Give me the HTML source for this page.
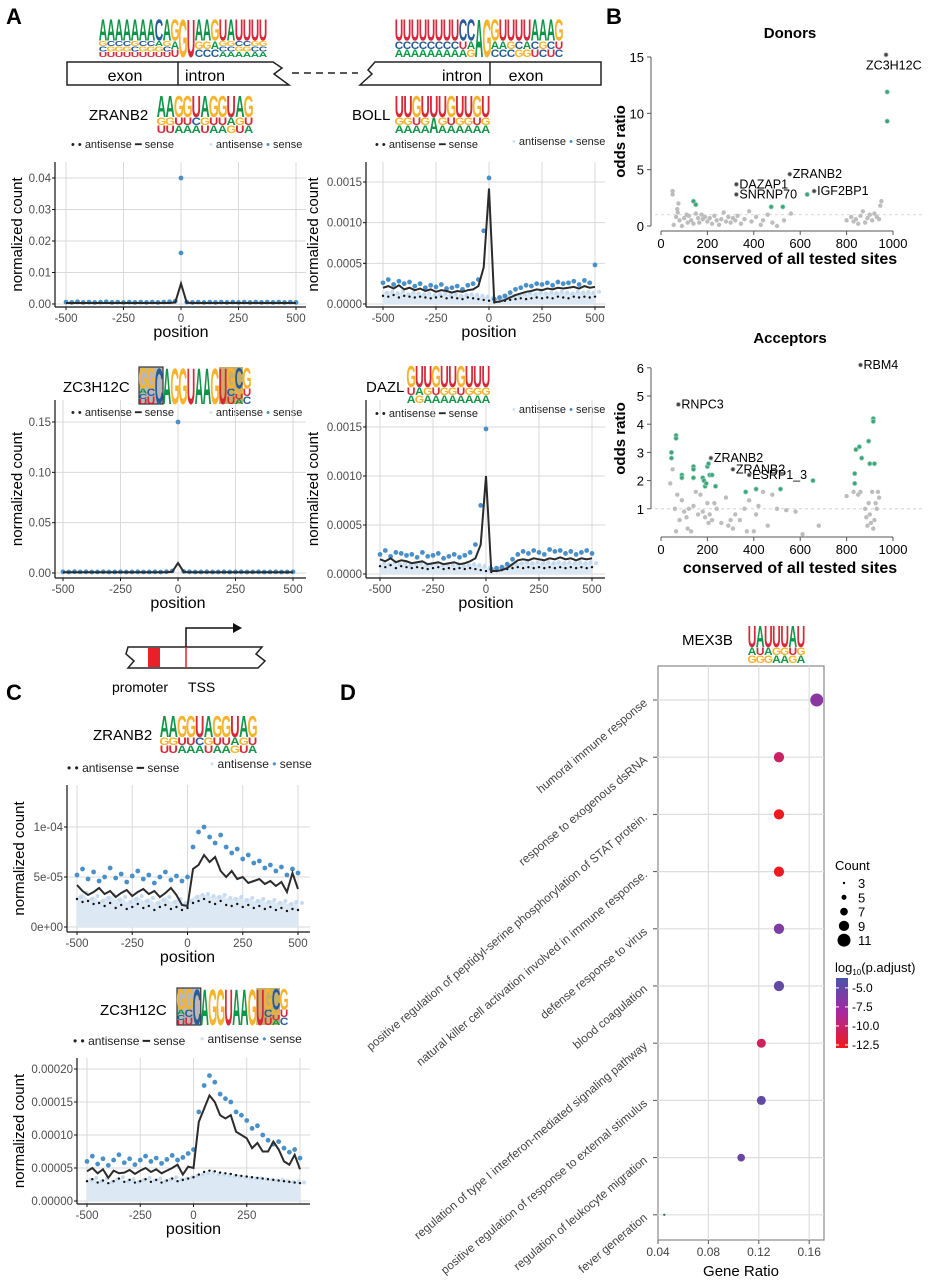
<!DOCTYPE html>
<html><head><meta charset="utf-8"><style>
html,body{margin:0;padding:0;background:#fff;}
svg{display:block;font-family:"Liberation Sans",sans-serif;}
</style></head><body>
<svg id="fig" width="930" height="1280" viewBox="0 0 930 1280" xmlns="http://www.w3.org/2000/svg">
<rect width="930" height="1280" fill="#fff"/>
<g font-weight="bold" font-size="22">
<text x="6" y="24">A</text><text x="606" y="24">B</text><text x="6" y="700">C</text><text x="340" y="700">D</text>
</g>
<g fill="none" stroke="#222" stroke-width="1.5">
<path d="M67,62 L273,62 L282,68 L274,74 L289,85 L67,85 Z" fill="#fff"/>
<line x1="178" y1="62" x2="178" y2="85"/>
<line x1="292" y1="73" x2="358" y2="73" stroke-dasharray="7,5"/>
<path d="M601,62 L375,62 L368,70 L372,74 L360,85 L601,85 Z" fill="#fff"/>
<line x1="490" y1="62" x2="490" y2="85"/>
</g>
<g font-size="16" text-anchor="middle">
<text x="125" y="81">exon</text><text x="205" y="81">intron</text><text x="462" y="81">intron</text><text x="526" y="81">exon</text>
</g>
<g font-size="15">
<text x="89" y="120">ZRANB2</text><text x="352" y="120">BOLL</text>
<text x="63" y="392">ZC3H12C</text><text x="366" y="392">DAZL</text>
</g>
<g font-size="11" fill="#222">
<text x="71" y="148">• • antisense ━ sense</text><text x="209" y="148" fill="#222"><tspan fill="#d0e2f2">•</tspan> antisense <tspan fill="#4a90c8">•</tspan> sense</text>
<text x="375" y="148">• • antisense ━ sense</text><text x="512" y="145"><tspan fill="#d0e2f2">•</tspan> antisense <tspan fill="#4a90c8">•</tspan> sense</text>
<text x="71" y="416">• • antisense ━ sense</text><text x="209" y="416"><tspan fill="#d0e2f2">•</tspan> antisense <tspan fill="#4a90c8">•</tspan> sense</text>
<text x="375" y="417">• • antisense ━ sense</text><text x="512" y="413"><tspan fill="#d0e2f2">•</tspan> antisense <tspan fill="#4a90c8">•</tspan> sense</text>
<text x="67" y="772" font-size="12">• • antisense ━ sense</text><text x="210" y="768" font-size="12"><tspan fill="#d0e2f2">•</tspan> antisense <tspan fill="#4a90c8">•</tspan> sense</text>
<text x="73" y="1045" font-size="12">• • antisense ━ sense</text><text x="200" y="1043" font-size="12"><tspan fill="#d0e2f2">•</tspan> antisense <tspan fill="#4a90c8">•</tspan> sense</text>
</g>
<g>
<path d="M128,647 L262,647 L256,654 L265,661 L258,668 L128,668 L134,661 L126,654 Z" fill="#fff" stroke="#222" stroke-width="1.5"/>
<rect x="148" y="648" width="12" height="19" fill="#e8202a"/>
<line x1="186" y1="647" x2="186" y2="668" stroke="#e8202a" stroke-width="1.5"/>
<path d="M186,647 L186,628 L236,628" fill="none" stroke="#111" stroke-width="1.5"/>
<path d="M242,628 L233,623 L233,633 Z" fill="#111"/>
<text x="112" y="692" font-size="14">promoter</text><text x="188" y="692" font-size="14">TSS</text>
</g>
<g font-size="15">
<text x="93" y="740">ZRANB2</text><text x="100" y="1015">ZC3H12C</text>
</g>
<g font-size="15"><text x="682" y="645">MEX3B</text></g>
<g id="layer"></g>
</svg>
<script>
// ===== data =====
const positions=[-500,-475,-450,-425,-400,-375,-350,-325,-300,-275,-250,-225,-200,-175,-150,-125,-100,-75,-50,-25,0,25,50,75,100,125,150,175,200,225,250,275,300,325,350,375,400,425,450,475,500];
const a1Line=[0.0003,0.0003,0.0003,0.0003,0.0003,0.0003,0.0003,0.0003,0.0003,0.0003,0.0003,0.0003,0.0003,0.0003,0.0003,0.0003,0.0003,0.0003,0.0003,0.0005,0.0065,0.0004,0.0003,0.0003,0.0003,0.0003,0.0003,0.0003,0.0003,0.0003,0.0003,0.0003,0.0003,0.0003,0.0003,0.0003,0.0003,0.0003,0.0003,0.0003,0.0003];
const a1Sense=[0.0006,0.0005,0.0007,0.0005,0.0006,0.0005,0.0006,0.0007,0.0005,0.0006,0.0005,0.0006,0.0005,0.0006,0.0005,0.0006,0.0005,0.0006,0.0007,0.0009,0.0400,0.0006,0.0005,0.0006,0.0005,0.0006,0.0005,0.0006,0.0005,0.0006,0.0005,0.0006,0.0005,0.0006,0.0005,0.0006,0.0005,0.0006,0.0005,0.0006,0.0005];
const a1Extra=[[0,0.0162]];
const a2Line=[2.0,2.2,1.9,2.3,1.8,2.0,1.7,1.9,1.6,1.8,1.5,1.7,1.6,1.4,1.6,1.5,1.7,1.8,2.2,4.5,14.2,0.2,0.3,0.5,0.8,1.1,1.3,1.5,1.6,1.8,1.7,1.9,1.8,2.0,1.9,2.0,2.1,1.9,2.2,2.0,2.1];
const a2Sense=[2.6,3.0,2.4,2.8,2.5,2.7,2.2,2.5,2.0,2.3,2.1,2.4,1.9,2.0,2.2,1.8,2.3,2.5,3.0,9.0,15.5,0.6,0.8,1.0,1.4,1.8,2.0,2.3,2.2,2.5,2.4,2.6,2.3,2.7,2.5,2.6,2.8,2.4,2.9,2.6,4.8];
const a2Anti=[1.4,1.5,1.3,1.5,1.2,1.4,1.3,1.2,1.3,1.1,1.2,1.3,1.1,1.2,1.0,1.1,1.2,1.1,1.0,0.9,0.8,0.5,0.7,0.9,1.0,1.1,1.2,1.3,1.2,1.4,1.3,1.4,1.3,1.5,1.4,1.3,1.5,1.4,1.5,1.4,1.5];
const a2AntiLine=[1.0,0.9,1.1,0.8,1.0,0.9,0.8,0.9,0.8,0.7,0.8,0.9,0.7,0.8,0.7,0.6,0.8,0.7,0.6,0.5,0.4,0.2,0.3,0.4,0.5,0.6,0.7,0.6,0.7,0.8,0.7,0.8,0.7,0.9,0.8,0.7,0.9,0.8,0.9,0.8,0.9];
const a3Line=[0.0008,0.0008,0.0008,0.0008,0.0008,0.0008,0.0008,0.0008,0.0008,0.0008,0.0008,0.0008,0.0008,0.0008,0.0008,0.0008,0.0008,0.0008,0.0008,0.0012,0.0100,0.0010,0.0008,0.0008,0.0008,0.0008,0.0008,0.0008,0.0008,0.0008,0.0008,0.0008,0.0008,0.0008,0.0008,0.0008,0.0008,0.0008,0.0008,0.0008,0.0008];
const a3Sense=[0.0012,0.0010,0.0013,0.0011,0.0012,0.0010,0.0011,0.0012,0.0010,0.0011,0.0012,0.0010,0.0011,0.0012,0.0010,0.0011,0.0012,0.0010,0.0013,0.0020,0.1500,0.0015,0.0012,0.0010,0.0011,0.0012,0.0010,0.0011,0.0012,0.0010,0.0011,0.0012,0.0010,0.0011,0.0012,0.0010,0.0011,0.0012,0.0010,0.0011,0.0012];
const a4Line=[1.5,1.3,1.6,1.2,1.4,1.3,1.1,1.2,1.3,1.0,1.1,1.2,1.0,1.1,1.2,1.0,1.1,1.3,1.6,3.0,10.0,0.3,0.3,0.4,0.6,1.0,1.4,1.5,1.4,1.6,1.5,1.4,1.6,1.5,1.7,1.5,1.6,1.4,1.6,1.5,1.6];
const a4Sense=[2.0,2.4,1.8,2.2,2.1,1.9,2.0,1.7,2.2,1.8,1.9,2.1,1.6,1.8,2.0,1.7,1.9,2.2,3.0,7.0,14.8,0.5,0.6,0.7,1.0,1.5,2.0,2.3,2.1,2.4,2.2,2.0,2.5,2.3,2.4,2.1,2.3,2.0,2.2,2.4,2.1];
const a4Anti=[1.1,1.0,1.2,1.0,1.1,0.9,1.0,1.1,0.9,1.0,1.1,0.9,1.0,0.9,1.0,0.8,0.9,1.0,0.9,0.8,0.7,0.4,0.5,0.7,0.9,1.0,1.1,1.2,1.1,1.2,1.1,1.2,1.1,1.2,1.1,1.2,1.1,1.2,1.1,1.2,1.1];
const a4AntiLine=[0.8,0.7,0.9,0.6,0.8,0.7,0.6,0.7,0.6,0.5,0.6,0.7,0.5,0.6,0.5,0.6,0.5,0.6,0.5,0.4,0.3,0.2,0.3,0.4,0.5,0.6,0.7,0.6,0.7,0.6,0.7,0.6,0.7,0.6,0.7,0.6,0.7,0.6,0.7,0.6,0.7];
const c1Line=[4.2,3.6,3.2,3.5,3.9,3.3,3.6,3.0,3.4,3.7,3.1,3.5,3.8,3.3,3.6,3.0,3.4,3.9,3.2,2.2,2.1,5.8,6.2,7.2,6.5,7.0,5.6,5.0,5.6,4.8,5.0,4.4,4.6,4.8,4.3,4.6,4.1,4.5,3.5,5.4,3.8];
const c1Sense=[5.2,5.8,4.8,5.5,4.6,5.0,5.9,4.9,5.3,4.5,5.1,5.6,4.8,5.2,4.4,5.0,5.5,4.7,5.1,4.6,5.0,8.0,9.5,10.0,9.0,8.4,9.2,8.0,7.4,7.8,6.8,7.2,6.4,6.6,5.9,6.2,5.6,6.0,5.2,5.8,5.4];
const c1Anti=[3.0,3.4,2.8,3.1,2.6,2.9,3.2,2.7,3.0,2.5,2.8,3.1,2.6,2.9,2.4,2.7,3.0,2.5,2.8,2.4,2.6,3.0,3.2,3.3,3.1,3.0,3.2,2.9,2.8,3.0,2.7,2.9,2.6,2.8,2.5,2.7,2.4,2.6,2.3,2.5,2.4];
const c1AntiLine=[2.8,2.5,2.6,2.3,2.4,2.1,2.4,1.9,2.2,1.8,2.0,2.3,1.9,2.1,1.7,2.0,2.2,1.8,2.0,1.7,1.9,2.4,2.6,2.8,2.5,2.3,2.6,2.2,2.1,2.3,2.0,2.2,1.9,2.1,1.8,2.0,1.7,1.9,1.6,1.8,1.7];
const c2Line=[4.5,5.0,4.2,4.8,3.5,4.6,4.2,4.3,4.7,4.1,4.6,5.0,4.4,4.8,4.2,4.6,5.0,5.5,4.0,5.2,5.0,12.0,14.0,16.0,15.0,13.0,12.5,13.0,10.5,10.0,9.5,8.0,8.8,7.5,7.5,9.0,7.8,6.0,5.5,7.0,4.8];
const c2Sense=[6.0,6.8,5.6,6.4,5.4,6.2,7.0,5.8,6.4,5.5,6.2,6.8,6.0,6.5,5.7,6.3,6.9,6.2,6.6,7.2,7.8,13.5,17.5,19.0,18.0,16.2,15.5,15.0,13.5,13.0,12.2,11.0,11.4,10.0,9.2,8.6,9.0,8.0,7.4,7.8,6.5];
const c2Anti=[3.2,3.5,3.0,3.4,2.9,3.3,3.6,3.0,3.3,2.9,3.2,3.5,3.1,3.4,3.0,3.3,3.6,3.2,3.4,3.6,3.8,4.0,4.2,4.3,4.1,4.0,3.9,3.8,3.7,3.6,3.5,3.4,3.4,3.3,3.2,3.1,3.2,3.0,2.9,3.0,2.8];
const c2AntiLine=[3.0,3.3,2.8,3.1,2.7,3.0,3.4,2.9,3.2,2.8,3.0,3.3,2.9,3.2,2.8,3.1,3.4,3.0,3.2,3.4,3.6,4.0,4.4,4.6,4.5,4.3,4.2,4.1,3.9,3.8,3.7,3.6,3.5,3.4,3.3,3.2,3.1,3.0,2.9,2.8,2.7];
const donorGray=[[50,3.1],[50,2.8],[55,0.1],[65,0.8],[70,1.5],[72,1.2],[75,2.0],[80,0.5],[90,0.0],[100,0.7],[110,1.0],[115,0.3],[120,0.9],[130,0.5],[140,0.2],[150,1.1],[160,0.7],[165,0.3],[175,1.0],[180,0.6],[190,0.8],[200,0.4],[210,0.7],[220,0.2],[230,0.9],[240,0.5],[250,0.1],[260,0.6],[270,1.2],[280,0.4],[290,0.8],[300,0.3],[310,0.7],[320,0.5],[330,0.9],[345,0.2],[360,0.6],[380,1.3],[390,0.4],[410,0.8],[430,0.1],[440,0.5],[460,1.0],[480,0.3],[500,0.0],[530,0.5],[560,1.1],[800,0.5],[820,0.8],[830,0.4],[840,0.6],[850,0.2],[860,0.9],[870,1.3],[880,0.3],[890,0.7],[900,1.0],[910,0.5],[920,1.1],[930,0.8],[940,0.6],[950,2.2],[945,1.8]];
const donorGreen=[[140,2.2],[150,1.9],[475,1.7],[525,1.7],[630,2.8],[975,11.9],[975,9.3]];
const donorLabeled=[[970,15.2,'ZC3H12C'],[325,3.7,'DAZAP1'],[325,2.8,'SNRNP70'],[555,4.6,'ZRANB2'],[660,3.1,'IGF2BP1']];
const donorTicksY=[0,5,10,15];
const siteTicks=[0,200,400,600,800,1000];
const accGray=[[40,1.9],[50,2.4],[60,1.0],[65,0.2],[70,1.5],[80,0.6],[90,1.3],[100,0.9],[110,0.7],[115,0.3],[120,1.0],[130,0.2],[140,1.1],[150,1.6],[160,0.8],[170,1.5],[180,0.9],[190,0.7],[200,1.2],[205,0.5],[210,0.8],[220,0.6],[230,1.2],[240,1.0],[260,0.5],[280,1.4],[290,0.4],[300,0.6],[310,0.3],[320,0.8],[340,0.6],[360,1.0],[370,0.2],[380,1.3],[400,0.2],[410,0.8],[420,1.1],[440,1.6],[460,0.4],[480,1.5],[500,1.0],[540,0.95],[580,0.9],[610,0.1],[680,0.4],[800,1.45],[830,1.6],[850,1.5],[860,1.6],[880,1.0],[885,0.7],[890,0.4],[895,1.2],[900,0.8],[905,0.5],[910,1.6],[915,0.3],[920,0.6],[925,1.2],[930,1.0],[935,1.6],[940,1.4]];
const accGreen=[[45,3.0],[45,2.8],[65,3.6],[65,3.5],[90,2.2],[90,2.1],[140,2.5],[140,2.4],[140,2.1],[180,2.1],[185,2.0],[190,1.8],[195,1.9],[200,2.5],[205,2.6],[210,2.2],[220,2.2],[235,1.8],[365,1.6],[410,1.7],[515,1.7],[655,2.0],[835,2.25],[835,1.9],[840,3.1],[855,3.2],[865,2.8],[895,3.4],[900,2.6],[915,4.2],[920,2.6],[915,4.1]];
const accLabeled=[[860,6.1,'RBM4'],[75,4.7,'RNPC3'],[215,2.8,'ZRANB2'],[310,2.4,'ZRANB2'],[380,2.2,'ESRP1_3']];
const accTicksY=[1,2,3,4,5,6];
const goTerms=['humoral immune response','response to exogenous dsRNA','positive regulation of peptidyl-serine phosphorylation of STAT protein.','natural killer cell activation involved in immune response.','defense response to virus','blood coagulation','regulation of type I interferon-mediated signaling pathway','positive regulation of response to external stimulus','regulation of leukocyte migration','fever generation'];
const goRatio=[0.166,0.136,0.136,0.136,0.136,0.136,0.122,0.122,0.106,0.045];
const goCount=[11,9,9,9,9,9,8,8,7,3];
const goLogP=[-7.0,-10.5,-12.8,-12.8,-6.5,-5.2,-10.8,-5.0,-5.5,-3.5];
const ratioTicks=[0.04,0.08,0.12,0.16];
const countLegend=[3,5,7,9,11];
const pLegend=[-5.0,-7.5,-10.0,-12.5];

// ===== helpers =====
const NS='http://www.w3.org/2000/svg';
const layer=document.getElementById('layer');
function mk(tag,attrs,parent){const e=document.createElementNS(NS,tag);for(const k in attrs)e.setAttribute(k,attrs[k]);(parent||layer).appendChild(e);return e;}
function txt(x,y,s,attrs,parent){const e=mk('text',Object.assign({x:x,y:y},attrs||{}),parent);e.textContent=s;return e;}
const LC={A:'#109648',C:'#255C99',G:'#F7B32B',U:'#D62839'};
function logo(name,x,y,w,h,cols,boxes){
  const g=mk('g',{});
  
  
  const cw=w/cols.length;
  (boxes||[]).forEach(function(b){mk('rect',{x:x+b[0]*cw,y:y,width:b[1]*cw,height:h,fill:b[2]||'#b8b8b8',stroke:b[3]||'none','stroke-width':1.2},g);});
  cols.forEach(function(c,i){
    let yb=y+h;const n=c.length;
    for(let j=n-1;j>=0;j--){
      const lh=n===1?h:(j===0?h*0.58:h*0.42/(n-1));
      const t=mk('text',{transform:'translate('+(x+cw*i+cw/2)+','+yb+') scale('+(cw/6.8)+','+(lh/7.3)+')','font-size':10,'font-weight':'bold','text-anchor':'middle',fill:LC[c[j]]},g);
      t.textContent=c[j];
      yb-=lh;
    }
  });
}
function profile(name,cfg,line,sense,anti,antiLine,scale,extra){
  const g=mk('g',{});
  
  
  const sx=v=>cfg.xm+(v+500)/1000*(cfg.xp-cfg.xm);
  const sy=v=>cfg.y0-(v*scale)/cfg.tmax*(cfg.y0-cfg.yt);
  [-500,-250,0,250,500].forEach(function(v){mk('line',{x1:sx(v),x2:sx(v),y1:cfg.T,y2:cfg.B,stroke:'#d9d9d9','stroke-width':1},g);});
  cfg.ticks.forEach(function(v){mk('line',{x1:cfg.L,x2:cfg.R,y1:sy(v/scale),y2:sy(v/scale),stroke:'#d9d9d9','stroke-width':1},g);});
  if(anti){
    let d='M'+sx(positions[0])+','+sy(0);
    positions.forEach(function(p,i){d+=' L'+sx(p)+','+sy(anti[i]);});
    d+=' L'+sx(500)+','+sy(0)+' Z';
    const band=mk('path',{d:d,fill:'#dce9f5'},g);
    
    
    positions.forEach(function(p,i){const c=mk('circle',{cx:sx(p)+4,cy:sy(anti[i]),r:2,fill:'#c6dbef'},g);
      
      });
  }
  positions.forEach(function(p,i){const c=mk('circle',{cx:sx(p),cy:sy(sense[i]),r:2.4,fill:'#4a90c8'},g);
    
    });
  (extra||[]).forEach(function(e){const c=mk('circle',{cx:sx(e[0]),cy:sy(e[1]),r:2.4,fill:'#4a90c8'},g);
    
    });
  if(antiLine){positions.forEach(function(p,i){const c=mk('circle',{cx:sx(p),cy:sy(antiLine[i]),r:1.2,fill:'#111'},g);
    
    });}
  const pl=mk('polyline',{points:positions.map((p,i)=>sx(p)+','+sy(line[i])).join(' '),fill:'none',stroke:'#2b2b2b','stroke-width':2},g);
  
  
  mk('line',{x1:cfg.L,x2:cfg.L,y1:cfg.T,y2:cfg.B,stroke:'#111','stroke-width':1.2},g);
  mk('line',{x1:cfg.L,x2:cfg.R,y1:cfg.B,y2:cfg.B,stroke:'#111','stroke-width':1.2},g);
  cfg.ticks.forEach(function(v,i){const yy=sy(v/scale);mk('line',{x1:cfg.L-3,x2:cfg.L,y1:yy,y2:yy,stroke:'#111'},g);
    txt(cfg.L-4,yy+4,cfg.tickLabels[i],{'font-size':11.5,'text-anchor':'end',fill:'#4d4d4d'},g);});
  cfg.xl.forEach(function(v){mk('line',{x1:sx(v),x2:sx(v),y1:cfg.B,y2:cfg.B+3,stroke:'#111'},g);
    txt(sx(v),cfg.B+15,String(v),{'font-size':11.5,'text-anchor':'middle',fill:'#4d4d4d'},g);});
  const yl=txt(0,0,'normalized count',{'font-size':15,'text-anchor':'middle',transform:'translate('+cfg.ylx+','+((cfg.T+cfg.B)/2)+') rotate(-90)'},g);
  
  
  const xl=txt(sx(0),cfg.B+30,'position',{'font-size':16,'text-anchor':'middle'},g);
  
  
}
const X5=[-500,-250,0,250,500];
profile('plot-a-zranb2',{L:55,R:306,T:162,B:307,xm:66,xp:296,y0:304,yt:178,tmax:0.04,ticks:[0,0.01,0.02,0.03,0.04],tickLabels:['0.00','0.01','0.02','0.03','0.04'],xl:X5,ylx:22},a1Line,a1Sense,null,null,1,a1Extra);
profile('plot-a-boll',{L:366,R:605,T:162,B:307,xm:383,xp:595,y0:304,yt:182,tmax:0.0015,ticks:[0,0.0005,0.001,0.0015],tickLabels:['0.0000','0.0005','0.0010','0.0015'],xl:X5,ylx:318},a2Line,a2Sense,a2Anti,a2AntiLine,0.0001);
profile('plot-a-zc3h12c',{L:55,R:306,T:400,B:578,xm:63,xp:293,y0:573,yt:422,tmax:0.15,ticks:[0,0.05,0.10,0.15],tickLabels:['0.00','0.05','0.10','0.15'],xl:X5,ylx:22},a3Line,a3Sense,null,null,1);
profile('plot-a-dazl',{L:366,R:605,T:400,B:578,xm:380,xp:592,y0:574,yt:427,tmax:0.0015,ticks:[0,0.0005,0.001,0.0015],tickLabels:['0.0000','0.0005','0.0010','0.0015'],xl:X5,ylx:318},a4Line,a4Sense,a4Anti,a4AntiLine,0.0001);
profile('plot-c-zranb2',{L:67,R:310,T:785,B:932,xm:77,xp:298,y0:927,yt:827,tmax:0.0001,ticks:[0,0.00005,0.0001],tickLabels:['0e+00','5e-05','1e-04'],xl:X5,ylx:24},c1Line,c1Sense,c1Anti,c1AntiLine,0.00001);
profile('plot-c-zc3h12c',{L:77,R:310,T:1058,B:1204,xm:87,xp:300,y0:1201,yt:1069,tmax:0.0002,ticks:[0,0.00005,0.0001,0.00015,0.0002],tickLabels:['0.00000','0.00005','0.00010','0.00015','0.00020'],xl:[-500,-250,0,250],ylx:24},c2Line,c2Sense,c2Anti,c2AntiLine,0.00001);

logo('donor-logo',99,18,168,39,['AGCU','ACGU','ACGU','ACGU','AGCU','ACGU','ACGU','CAGU','AGCU','GAU','G','U','AGC','AGC','GAC','UGCA','AGCA','UCGA','UCGA','UGCA','UGCA']);
logo('acceptor-logo',395,18,168,39,['UCA','UCA','UCA','UCA','UCA','UCA','UCA','UCA','CUA','CAG','A','G','GAC','UAC','UGC','UCG','UAG','ACU','AGC','ACU','GUC']);
logo('zranb2-logo',157,95,96,38,['AGU','AGU','GUA','GUA','UCA','AGU','GUA','GUA','UAG','AGU','GUA']);
logo('boll-logo',395,95,95,38,['UGA','UGA','GUA','UGA','UA','UGA','GUA','UGA','UGA','GUA','UGA']);
logo('zc3h12c-logo',139,367,112,37,['GACU','GCU','C','A','G','G','U','A','A','G','U','GCU','CGUA','GUC'],[[0,3,'#b8b8b8','#333'],[10,3,'#c9ae6a']]);
logo('dazl-logo',407,365,83,38,['GUA','UAG','UGA','GUA','UGA','UGA','GUA','UGA','UGA','UGA']);
logo('c-zranb2-logo',160,715,97,38,['AGU','AGU','GUA','GUA','UCA','AGU','GUA','GUA','UAG','AGU','GUA']);
logo('c-zc3h12c-logo',177,988,111,37,['GACU','GCU','C','A','G','G','U','A','A','G','U','GCU','CGUA','GUC'],[[0,3,'#b8b8b8','#333'],[10,3,'#c9ae6a']]);
logo('mex3b-logo',748,625,57,38,['UAG','AUG','UAG','UGA','UGA','AUG','UGA']);

const sxB=v=>661+v/1000*232;
function scatterB(name,gray,green,lab,sy,title,titleY,ticksY,axY,yTop,yBot,xlabelY){
  const g=mk('g',{});
  
  
  txt(790,titleY,title,{'font-size':15,'font-weight':'bold','text-anchor':'middle'},g);
  mk('line',{x1:655,x2:925,y1:sy(1),y2:sy(1),stroke:'#ccc','stroke-dasharray':'3,3','stroke-width':0.8},g);
  gray.forEach(function(p){const c=mk('circle',{cx:sxB(p[0]),cy:sy(p[1]),r:2.2,fill:'#bdbdbd'},g);
    
    });
  green.forEach(function(p){const c=mk('circle',{cx:sxB(p[0]),cy:sy(p[1]),r:2.2,fill:'#3aa57a',stroke:'#9fd5bd','stroke-width':0.8},g);
    
    });
  lab.forEach(function(p){const c=mk('circle',{cx:sxB(p[0]),cy:sy(p[1]),r:2,fill:'#444',stroke:'#aaa','stroke-width':0.8},g);
    
    
    const below=p[2]==='ZC3H12C';
    txt(below?sxB(p[0])-20:sxB(p[0])+3,below?sy(p[1])+15:sy(p[1])+4,p[2],{'font-size':12.5},g);});
  mk('line',{x1:651,x2:651,y1:yTop,y2:yBot,stroke:'#555'},g);
  ticksY.forEach(function(v){mk('line',{x1:647,x2:651,y1:sy(v),y2:sy(v),stroke:'#555'},g);
    txt(644,sy(v)+5,String(v),{'font-size':13,'text-anchor':'end'},g);});
  mk('line',{x1:sxB(0),x2:sxB(1000),y1:axY,y2:axY,stroke:'#555'},g);
  siteTicks.forEach(function(v){mk('line',{x1:sxB(v),x2:sxB(v),y1:axY,y2:axY+4,stroke:'#555'},g);
    txt(sxB(v),axY+17,String(v),{'font-size':13,'text-anchor':'middle'},g);});
  const yl=txt(0,0,'odds ratio',{'font-size':15,'font-weight':'bold','text-anchor':'middle',transform:'translate(625,'+((yTop+yBot)/2)+') rotate(-90)'},g);
  
  
  const xl=txt(790,xlabelY,'conserved of all tested sites',{'font-size':16,'font-weight':'bold','text-anchor':'middle'},g);
  
  
}
scatterB('donors-plot',donorGray,donorGreen,donorLabeled,v=>226-v*169/15,'Donors',38,donorTicksY,231,57,226,264);
scatterB('acceptors-plot',accGray,accGreen,accLabeled,v=>537-v*28.2,'Acceptors',343,accTicksY,537,368,509,573);

const sxD=v=>658+(v-0.04)/0.01*12.6;
const rowY=i=>700+i*57.2;
const rFromCount=c=>1.2+(c-3)*0.66;
function pColor(v){const t=Math.max(0,Math.min(1,(v+4)/(-9)));const b=[74,84,168],m=[170,40,160],r=[242,26,26];
  let a,c,u; if(t<0.5){a=b;c=m;u=t/0.5;}else{a=m;c=r;u=(t-0.5)/0.5;}
  return 'rgb('+a.map((x,k)=>Math.round(x+(c[k]-x)*u)).join(',')+')';}
const gD=mk('g',{});


mk('rect',{x:658,y:666,width:166,height:574,fill:'#fff',stroke:'#888','stroke-width':1.2},gD);
ratioTicks.slice(1).forEach(function(v){mk('line',{x1:sxD(v),x2:sxD(v),y1:666,y2:1240,stroke:'#ddd','stroke-width':1.2},gD);});
goTerms.forEach(function(t,i){mk('line',{x1:658,x2:824,y1:rowY(i),y2:rowY(i),stroke:'#ddd','stroke-width':1.2},gD);
  mk('line',{x1:653,x2:657,y1:rowY(i),y2:rowY(i),stroke:'#555'},gD);
  const lt=txt(0,0,t,{'font-size':11.8,'text-anchor':'end',fill:'#444',transform:'translate(648,'+(rowY(i)+4)+') rotate(-40)'},gD);
  
  });
goTerms.forEach(function(t,i){const c=mk('circle',{cx:sxD(goRatio[i]),cy:rowY(i),r:rFromCount(goCount[i]),fill:i===9?'#2a7a55':pColor(goLogP[i])},gD);
  
  });
ratioTicks.forEach(function(v){mk('line',{x1:sxD(v),x2:sxD(v),y1:1240,y2:1244,stroke:'#555'},gD);
  txt(sxD(v),1256,v.toFixed(2),{'font-size':12,'text-anchor':'middle',fill:'#444'},gD);});
const gx=txt(741,1276,'Gene Ratio',{'font-size':15,'text-anchor':'middle'},gD);


const gL=mk('g',{});


txt(835,870,'Count',{'font-size':13},gL);
countLegend.forEach(function(c,i){mk('circle',{cx:844,cy:883+i*14.3,r:rFromCount(c),fill:'#000'},gL);txt(858,888+i*14.3,String(c),{'font-size':13},gL);});
const gC=mk('g',{});


const t1=txt(835,972,'log',{'font-size':13},gC);const ts=mk('tspan',{'font-size':8,dy:3},t1);ts.textContent='10';const ts2=mk('tspan',{dy:-3},t1);ts2.textContent='(p.adjust)';
const defs=mk('defs',{},gC);const lg=mk('linearGradient',{id:'pg',x1:0,y1:0,x2:0,y2:1},defs);
[0,0.5,1].forEach(function(o,k){mk('stop',{offset:o,'stop-color':['#4a54a8','#aa28a0','#f21a1a'][k]},lg);});
mk('rect',{x:836,y:978,width:12,height:70,fill:'url(#pg)'},gC);
pLegend.forEach(function(v){const yy=978+(v+3.7)/(-9.2)*70;mk('line',{x1:836,x2:839,y1:yy,y2:yy,stroke:'#fff'},gC);mk('line',{x1:845,x2:848,y1:yy,y2:yy,stroke:'#fff'},gC);
  txt(852,yy+4,v.toFixed(1),{'font-size':12},gC);});
</script>
</body></html>
